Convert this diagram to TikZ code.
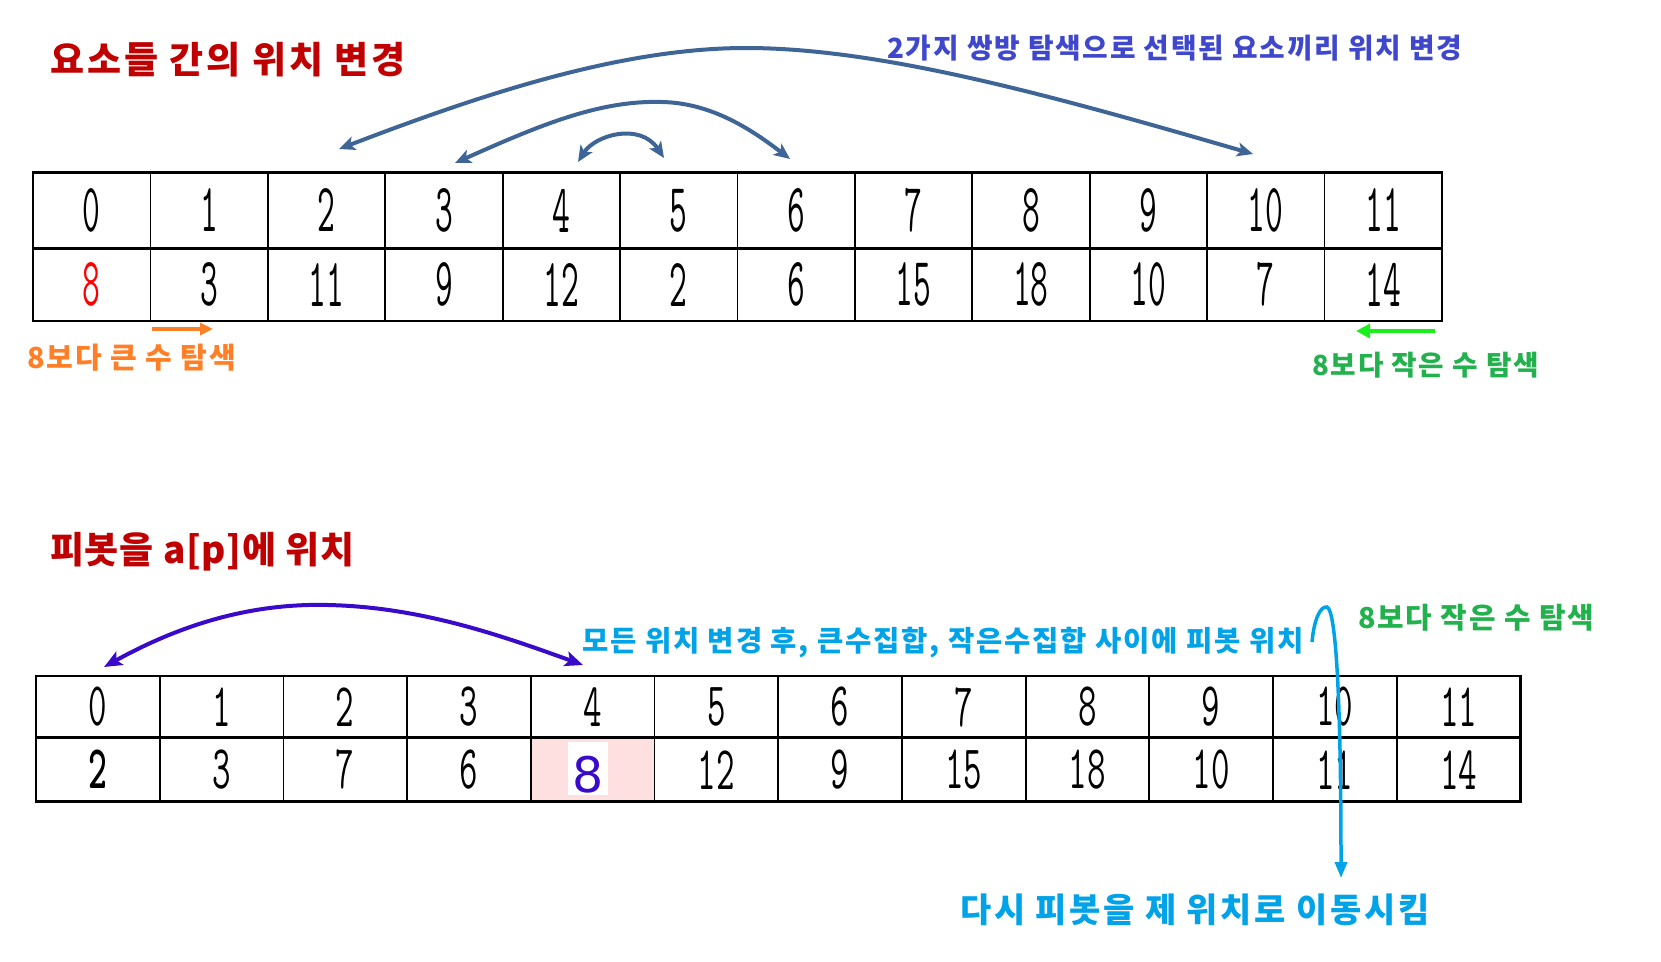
\documentclass[tikz,border=0pt]{standalone}
\usepackage{fontspec}
\usepackage{graphicx}
\usetikzlibrary{arrows.meta}
\newfontfamily\krA{Noto Sans CJK KR}[LetterSpace=6.4]
\newfontfamily\krB{Noto Sans CJK KR}[LetterSpace=8.0]
\newfontfamily\krC{Noto Sans CJK KR}[LetterSpace=2.0]
\newfontfamily\pvfont{DejaVu Sans}
\definecolor{titlered}{HTML}{C00000}
\definecolor{indigo}{HTML}{3F48CC}
\definecolor{orng}{HTML}{FF7F27}
\definecolor{grn}{HTML}{22B14C}
\definecolor{brightgrn}{HTML}{1CF01C}
\definecolor{cyn}{HTML}{00A2E8}
\definecolor{arcblue}{HTML}{3F6597}
\definecolor{purp}{HTML}{3A0ACB}
\definecolor{pinkcell}{HTML}{FFE0E0}
\newcommand\dgx[1]{\scalebox{0.5}[1]{#1}}
\newcommand\dgy[1]{\scalebox{0.58}[1]{#1}}
\begin{document}
\begin{tikzpicture}[x=1pt,y=-1pt,
  lbl/.style={anchor=west,inner sep=0pt,font=\krA\bfseries\fontsize{#1}{#1}\selectfont},
  lblwide/.style={anchor=west,inner sep=0pt,font=\krB\bfseries\fontsize{#1}{#1}\selectfont},
  lblnarrow/.style={anchor=west,inner sep=0pt,font=\krC\bfseries\fontsize{#1}{#1}\selectfont},
  tdig/.style={inner sep=0pt,font=\ttfamily\fontsize{69}{69}\selectfont},
  bdig/.style={inner sep=0pt,font=\ttfamily\fontsize{62}{62}\selectfont},
  gridthin/.style={draw=black,line width=1.8pt},
  gridthick/.style={draw=black,line width=2.6pt},
  arcline/.style={draw=arcblue,line width=4pt,
    {Stealth[length=16pt,width=14pt,inset=4pt]}-{Stealth[length=16pt,width=14pt,inset=4pt]}},
  purpline/.style={draw=purp,line width=4pt,
    {Stealth[length=18pt,width=15pt,inset=4pt]}-{Stealth[length=18pt,width=15pt,inset=4pt]}},
  orngarrow/.style={draw=orng,line width=3.5pt,-{Triangle[length=13pt,width=12pt]}},
  grnarrow/.style={draw=brightgrn,line width=4pt,-{Triangle[length=14pt,width=14pt]}},
  cynarrow/.style={draw=cyn,line width=3.5pt,-{Triangle[length=16pt,width=12pt]}}
]
\fill[white] (0,0) rectangle (1661,961);
\useasboundingbox (0,0) rectangle (1661,961);

% ---------- top table ----------
\foreach \i in {1,...,11}
  \draw[gridthin] ({33+117.4*\i},172.7) -- ({33+117.4*\i},321);
\draw[gridthick] (33,172.7) rectangle (1441.8,321);
\draw[gridthick] (33,248.3) -- (1441.8,248.3);
\foreach \i in {0,...,11}
  \node[tdig] (ti\i) at ({33+117.4*(\i+0.5)},210.5) {\dgx{\i}};
\foreach \c/\v [count=\i from 0] in {red/8,black/3,black/11,black/9,black/12,black/2,black/6,black/15,black/18,black/10,black/7,black/14}
  \node[tdig,text=\c] (tv\i) at ({33+117.4*(\i+0.5)},284.7) {\dgx{\v}};

% ---------- top labels ----------
\node[lblwide=37,text=titlered] (title1) at (50,60) {요소들 간의 위치 변경};
\node[lbl=27.8,text=indigo] (swaplbl) at (887,48) {2가지 쌍방 탐색으로 선택된 요소끼리 위치 변경};
\node[lbl=29,text=orng] (bigger) at (27,357.5) {8보다 큰 수 탐색};
\node[lbl=27.7,text=grn] (smaller1) at (1312,365) {8보다 작은 수 탐색};

% ---------- swap arcs ----------
\coordinate (a2) at (339,149);
\coordinate (a10) at (1253,154);
\coordinate (a3) at (455,163);
\coordinate (a6) at (790,159);
\coordinate (a4) at (578,162);
\coordinate (a5) at (664,158);
\draw[arcline] (a2) .. controls (480,95) and (620,48) .. (746,48) .. controls (880,48) and (1050,95) .. (a10);
\draw[arcline] (a3) .. controls (540,125) and (600,100) .. (662,102) .. controls (712,103) and (752,130) .. (a6);
\draw[arcline] (a4) .. controls (595,135) and (640,122) .. (a5);

% ---------- search arrows ----------
\coordinate (o1) at (152,329);
\coordinate (o2) at (213,329);
\draw[orngarrow] (o1) -- (o2);
\coordinate (g1) at (1435,331);
\coordinate (g2) at (1356,331);
\draw[grnarrow] (g1) -- (g2);

% ---------- bottom table ----------
\fill[pinkcell] (530.8,737.7) rectangle (654.6,801.7);
\fill[white] (568,742) rectangle (608,795);
\foreach \i in {1,...,11}
  \draw[gridthin] ({36+123.7*\i},676) -- ({36+123.7*\i},801.7);
\draw[gridthick] (36,676) rectangle (1520.4,801.7);
\draw[gridthick] (36,737.7) -- (1520.4,737.7);
\foreach \i in {0,...,11}
  \node[bdig] (bi\i) at ({36+123.7*(\i+0.5)},707) {\dgy{\i}};
\node[bdig,font=\ttfamily\bfseries\fontsize{62}{62}\selectfont] (bv0) at ({36+123.7*0.5},769.7) {\dgy{2}};
\foreach \i/\v in {1/3,2/7,3/6,5/12,6/9,7/15,8/18,9/10,10/11,11/14}
  \node[bdig] (bv\i) at ({36+123.7*(\i+0.5)},769.7) {\dgy{\v}};
\node[inner sep=0pt,font=\pvfont\fontsize{49}{49}\selectfont,text=purp] (bv4) at (588.5,775) {8};

% ---------- bottom labels ----------
\node[lblnarrow=37,text=titlered] (title2) at (50,552) {피봇을 a[p]에 위치};
\node[lbl=28.6,text=cyn] (afterlbl) at (582,643) {모든 위치 변경 후, 큰수집합, 작은수집합 사이에 피봇 위치};
\node[lbl=28.8,text=grn] (smaller2) at (1358,618) {8보다 작은 수 탐색};
\node[lblwide=33.9,text=cyn] (movelbl) at (960,910) {다시 피봇을 제 위치로 이동시킴};

% ---------- pivot arc ----------
\coordinate (p0) at (104,667);
\coordinate (p4) at (583,665);
\draw[purpline] (p0) .. controls (180,625) and (250,603) .. (328,605) .. controls (420,607) and (500,635) .. (p4);

% ---------- return arrow ----------
\coordinate (c1) at (1312,642);
\coordinate (c2) at (1341,878);
\draw[cynarrow] (c1) .. controls (1314,620) and (1320,606) .. (1327,607) .. controls (1336,610) and (1341,700) .. (c2);
\end{tikzpicture}
\end{document}
